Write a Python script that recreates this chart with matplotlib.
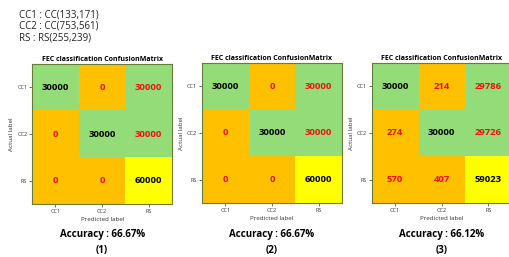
import matplotlib.pyplot as plt
import numpy as np
from matplotlib.colors import ListedColormap, BoundaryNorm

plt.rcParams['font.family'] = ['Open Sans', 'DejaVu Sans']

labels = ['CC1', 'CC2', 'RS']
legend_lines = ['CC1 : CC(133,171)', 'CC2 : CC(753,561)', 'RS : RS(255,239)']

cm1 = [[30000, 0, 30000],
       [0, 30000, 30000],
       [0, 0, 60000]]
cm2 = [[30000, 0, 30000],
       [0, 30000, 30000],
       [0, 0, 60000]]
cm3 = [[30000, 214, 29786],
       [274, 30000, 29726],
       [570, 407, 59023]]
accuracy = ['66.67%', '66.67%', '66.12%']
captions = ['(1)', '(2)', '(3)']
matrices = [cm1, cm2, cm3]

# orange for small counts, green for middle, yellow for big
cmap = ListedColormap(['#FFC000', '#93DC78', '#FFFF00'])
norm = BoundaryNorm([0, 1000, 45000, 100000], cmap.N)

fig = plt.figure(figsize=(5.10, 2.57), dpi=100)

lefts = [0.063, 0.396, 0.729]
bottoms = [0.206, 0.210, 0.210]
w, h = 0.2745, 0.545

for n, line in enumerate(legend_lines):
    fig.text(19 / 510, 1 - (15 + 11.5 * n) / 257, line, fontsize=7,
             va='center', color='#222222')

for k in range(3):
    ax = fig.add_axes([lefts[k], bottoms[k], w, h])
    m = np.array(matrices[k])
    ax.imshow(m, cmap=cmap, norm=norm, aspect='auto')
    for i in range(3):
        for j in range(3):
            c = 'black' if i == j else '#EE1111'
            ax.text(j, i, str(m[i, j]), ha='center', va='center',
                    fontsize=6.8, fontweight='bold', color=c)
    ax.set_xticks(range(3))
    ax.set_yticks(range(3))
    ax.set_xticklabels(labels, fontsize=4)
    ax.set_yticklabels(labels, fontsize=4)
    ax.tick_params(length=2, width=0.5, pad=1.5, colors='#333333')
    ax.set_xlabel('Predicted label', fontsize=4.5, labelpad=2, color='#333333')
    ax.set_ylabel('Actual label', fontsize=4.5, labelpad=2, color='#333333')
    ax.set_title('FEC classification ConfusionMatrix', fontsize=5,
                 fontweight='bold', pad=2)
    for s in ax.spines.values():
        s.set_color('#6B7A3A')
        s.set_linewidth(0.8)
    cx = lefts[k] + w / 2
    fig.text(cx, 1 - 235 / 257, 'Accuracy : ' + accuracy[k], ha='center',
             va='center', fontsize=7, fontweight='bold')
    fig.text(cx, 1 - 251 / 257, captions[k], ha='center', va='center',
             fontsize=7, fontweight='bold')

fig.savefig('out.png', dpi=100)
